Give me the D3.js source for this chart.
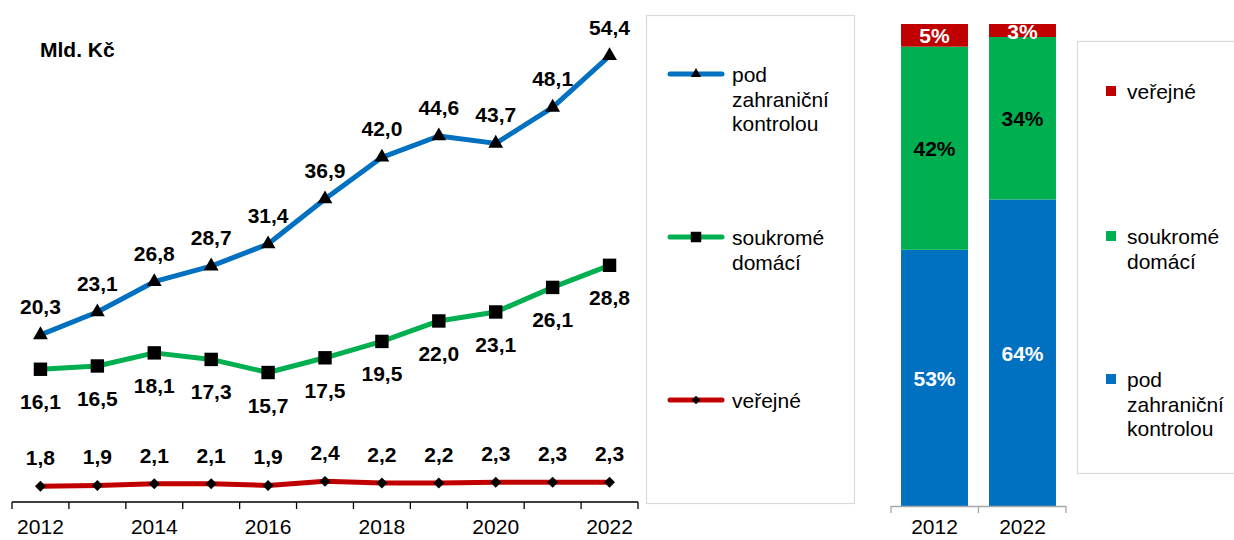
<!DOCTYPE html>
<html>
<head>
<meta charset="utf-8">
<script src="https://cdn.jsdelivr.net/npm/d3@7/dist/d3.min.js"></script>
<style>
  html, body { margin: 0; padding: 0; background: #fff; }
  svg { display: block; font-family: "Liberation Sans", Arial, sans-serif; }
</style>
</head>
<body>
<svg id="chart" width="1234" height="540"></svg>
<script>
// ---- data ----
const years = [2012, 2013, 2014, 2015, 2016, 2017, 2018, 2019, 2020, 2021, 2022];
const foreignCtrl = [20.3, 23.1, 26.8, 28.7, 31.4, 36.9, 42.0, 44.6, 43.7, 48.1, 54.4];
const privateDom  = [16.1, 16.5, 18.1, 17.3, 15.7, 17.5, 19.5, 22.0, 23.1, 26.1, 28.8];
const publicSec   = [1.8, 1.9, 2.1, 2.1, 1.9, 2.4, 2.2, 2.2, 2.3, 2.3, 2.3];
const yearTickLabels = [2012, 2014, 2016, 2018, 2020, 2022];

const barYears = ["2012", "2022"];
const shareForeign = [53.1, 63.6];
const sharePrivate = [42.1, 33.7];
const sharePublic  = [4.7, 2.7];
const shareLabelsForeign = ["53%", "64%"];
const shareLabelsPrivate = ["42%", "34%"];
const shareLabelsPublic  = ["5%", "3%"];

const seriesNames = {
  foreign: ["pod", "zahraniční", "kontrolou"],
  priv: ["soukromé", "domácí"],
  pub: ["veřejné"]
};
const unitLabel = "Mld. Kč";

const C = { blue: "#0070C0", green: "#00B050", red: "#C00000" };
const FS = 21;
const fmt = v => d3.format(".1f")(v).replace(".", ",");

const svg = d3.select("#chart");

// ---- left line chart ----
const x = d3.scaleBand().domain(years).range([12, 638]);
const y = d3.scaleLinear().domain([0, 60]).range([501, 10]);
const cx = d => x(d) + x.bandwidth() / 2;

const g = svg.append("g");

// x axis
g.append("line").attr("x1", 12).attr("x2", 638).attr("y1", 502).attr("y2", 502)
  .attr("stroke", "#000").attr("stroke-width", 1.3);
const boundaries = years.map(d => x(d)).concat([x(years[years.length - 1]) + x.bandwidth()]);
g.selectAll(".tk").data(boundaries).enter().append("line")
  .attr("x1", d => d).attr("x2", d => d).attr("y1", 502).attr("y2", 509)
  .attr("stroke", "#000").attr("stroke-width", 1.3);
g.selectAll(".xl").data(yearTickLabels).enter().append("text")
  .attr("x", d => cx(d)).attr("y", 534).attr("text-anchor", "middle")
  .attr("font-size", FS).attr("fill", "#000").text(d => d);

g.append("text").attr("x", 40).attr("y", 57).attr("font-size", FS)
  .attr("font-weight", "bold").text(unitLabel);

const line = d3.line().x((d, i) => cx(years[i])).y(d => y(d));

function drawSeries(vals, color, marker, labelDy) {
  g.append("path").datum(vals).attr("d", line).attr("fill", "none")
    .attr("stroke", color).attr("stroke-width", 5).attr("stroke-linejoin", "round");
  const sym = d3.symbol().type(marker.type).size(marker.size);
  g.selectAll(null).data(vals).enter().append("path")
    .attr("d", sym)
    .attr("transform", (d, i) => `translate(${cx(years[i])},${y(d)})${marker.rot ? " rotate(45)" : ""}`)
    .attr("fill", "#000");
  g.selectAll(null).data(vals).enter().append("text")
    .attr("x", (d, i) => cx(years[i])).attr("y", d => y(d) + labelDy)
    .attr("text-anchor", "middle").attr("font-size", FS).attr("font-weight", "bold")
    .attr("fill", "#000").text(d => fmt(d));
}
drawSeries(foreignCtrl, C.blue, { type: d3.symbolTriangle, size: 95 }, -21);
drawSeries(privateDom, C.green, { type: d3.symbolSquare, size: 180 }, 40);
drawSeries(publicSec, C.red, { type: d3.symbolSquare, size: 60, rot: true }, -21);

// left legend
g.append("rect").attr("x", 646.5).attr("y", 15.5).attr("width", 208).attr("height", 488)
  .attr("fill", "none").attr("stroke", "#d9d9d9").attr("stroke-width", 1.2);
const leg1 = [
  { names: seriesNames.foreign, color: C.blue, y: 74, m: { type: d3.symbolTriangle, size: 45 } },
  { names: seriesNames.priv, color: C.green, y: 237, m: { type: d3.symbolSquare, size: 110 } },
  { names: seriesNames.pub, color: C.red, y: 400, m: { type: d3.symbolSquare, size: 36, rot: true } }
];
leg1.forEach(it => {
  g.append("line").attr("x1", 670).attr("x2", 722).attr("y1", it.y).attr("y2", it.y)
    .attr("stroke", it.color).attr("stroke-width", 5).attr("stroke-linecap", "round");
  g.append("path").attr("d", d3.symbol().type(it.m.type).size(it.m.size))
    .attr("transform", `translate(696,${it.y})${it.m.rot ? " rotate(45)" : ""}`).attr("fill", "#000");
  it.names.forEach((t, j) => {
    g.append("text").attr("x", 732).attr("y", it.y + 8 + j * 24.5).attr("font-size", FS)
      .attr("fill", "#000").text(t);
  });
});

// ---- right stacked bar chart ----
const xb = d3.scaleBand().domain(barYears).range([891, 1066]).paddingInner(0.239).paddingOuter(0.114);
const yb = d3.scaleLinear().domain([0, 1]).range([506, 24]);
const barData = barYears.map((yr, i) => ({
  year: yr, foreign: shareForeign[i], priv: sharePrivate[i], pub: sharePublic[i],
  lf: shareLabelsForeign[i], lp: shareLabelsPrivate[i], lu: shareLabelsPublic[i]
}));
const keys = ["foreign", "priv", "pub"];
const colors = { foreign: C.blue, priv: C.green, pub: C.red };
const labelKey = { foreign: "lf", priv: "lp", pub: "lu" };
const labelColor = { foreign: "#fff", priv: "#000", pub: "#fff" };
const stack = d3.stack().keys(keys).offset(d3.stackOffsetExpand)(barData);

svg.append("clipPath").attr("id", "plotclip").append("rect")
  .attr("x", 880).attr("y", 24).attr("width", 200).attr("height", 490);
const gb = svg.append("g").attr("clip-path", "url(#plotclip)");
stack.forEach(layer => {
  gb.selectAll(null).data(layer).enter().append("rect")
    .attr("x", d => xb(d.data.year)).attr("width", xb.bandwidth())
    .attr("y", d => yb(d[1])).attr("height", d => yb(d[0]) - yb(d[1]))
    .attr("fill", colors[layer.key]);
  gb.selectAll(null).data(layer).enter().append("text")
    .attr("x", d => xb(d.data.year) + xb.bandwidth() / 2)
    .attr("y", d => (yb(d[0]) + yb(d[1])) / 2 + 8)
    .attr("text-anchor", "middle").attr("font-size", FS).attr("font-weight", "bold")
    .attr("fill", labelColor[layer.key]).text(d => d.data[labelKey[layer.key]]);
});

// bar axis
svg.append("line").attr("x1", 891).attr("x2", 1066).attr("y1", 506.5).attr("y2", 506.5)
  .attr("stroke", "#a6a6a6").attr("stroke-width", 1.3);
[891, 1066].concat([xb(barYears[1]) - xb.step() * xb.paddingInner() / 2]).forEach(xx => {
  svg.append("line").attr("x1", xx).attr("x2", xx).attr("y1", 506).attr("y2", 513)
    .attr("stroke", "#a6a6a6").attr("stroke-width", 1.3);
});
svg.selectAll(".bl").data(barYears).enter().append("text")
  .attr("x", d => xb(d) + xb.bandwidth() / 2).attr("y", 534).attr("text-anchor", "middle")
  .attr("font-size", FS).attr("fill", "#000").text(d => d);

// right legend
svg.append("rect").attr("x", 1077.5).attr("y", 41.5).attr("width", 200).attr("height", 432)
  .attr("fill", "none").attr("stroke", "#d9d9d9").attr("stroke-width", 1.2);
const leg2 = [
  { names: seriesNames.pub, color: C.red, y: 91 },
  { names: seriesNames.priv, color: C.green, y: 236 },
  { names: seriesNames.foreign, color: C.blue, y: 379 }
];
leg2.forEach(it => {
  svg.append("rect").attr("x", 1106).attr("y", it.y - 5).attr("width", 10).attr("height", 10)
    .attr("fill", it.color);
  it.names.forEach((t, j) => {
    svg.append("text").attr("x", 1127).attr("y", it.y + 8 + j * 24.5).attr("font-size", FS)
      .attr("fill", "#000").text(t);
  });
});
</script>
</body>
</html>
